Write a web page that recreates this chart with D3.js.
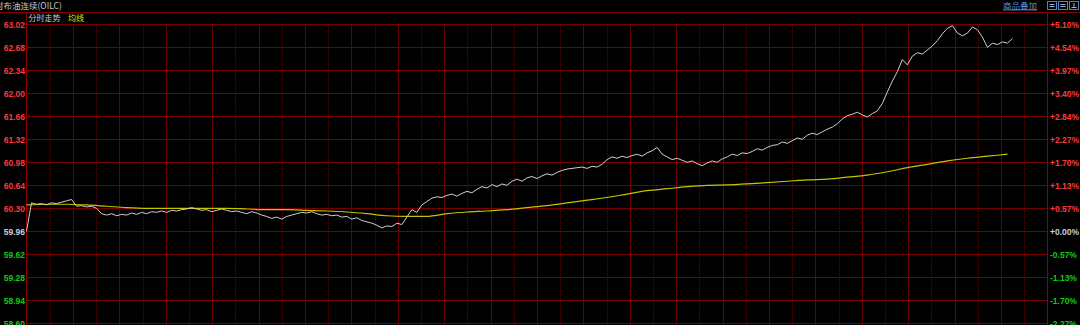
<!DOCTYPE html>
<html>
<head>
<meta charset="UTF-8">
<title>布油连续 分时走势</title>
<script src="https://cdn.jsdelivr.net/npm/d3@7"></script>
<style>
  html, body { margin: 0; padding: 0; background: #000; overflow: hidden; }
  svg { display: block; }
  text { font-family: "Liberation Sans", Arial, sans-serif; }
  .cjk { font-family: "Noto Sans CJK SC", sans-serif; }
</style>
</head>
<body>
<script>
  // prior close, used for the % axis and label colours
  const prevClose = 59.96;

  // price axis ticks (left) and matching % labels (right)
  const tickPrices = [58.60, 58.94, 59.28, 59.62, 59.96, 60.30, 60.64, 60.98, 61.32, 61.66, 62.00, 62.34, 62.68, 63.02];
  const tickLabels = ["58.60", "58.94", "59.28", "59.62", "59.96", "60.30", "60.64", "60.98", "61.32", "61.66", "62.00", "62.34", "62.68", "63.02"];
  const pctLabels = ["-2.27%", "-1.70%", "-1.13%", "-0.57%", "+0.00%", "+0.57%", "+1.13%", "+1.70%", "+2.27%", "+2.84%", "+3.40%", "+3.97%", "+4.54%", "+5.10%"];

  // session slots: the whole day, and the price line sampled once per slot
  const totalSlots = 204;
  const gridColumns = 44;

  const prices = [
    59.96, 60.38, 60.36, 60.37, 60.35, 60.38, 60.37, 60.39, 60.41, 60.43,
    60.33, 60.34, 60.32, 60.33, 60.30, 60.22, 60.20, 60.22, 60.19, 60.21,
    60.20, 60.23, 60.21, 60.24, 60.22, 60.25, 60.24, 60.26, 60.24, 60.27,
    60.26, 60.28, 60.29, 60.31, 60.29, 60.27, 60.28, 60.25, 60.27, 60.29,
    60.27, 60.25, 60.26, 60.24, 60.22, 60.25, 60.23, 60.20, 60.18, 60.15,
    60.17, 60.14, 60.18, 60.20, 60.22, 60.24, 60.23, 60.25, 60.22, 60.20,
    60.21, 60.19, 60.20, 60.17, 60.18, 60.14, 60.16, 60.12, 60.10, 60.08,
    60.05, 60.01, 60.04, 60.03, 60.08, 60.06, 60.17, 60.28, 60.24, 60.35,
    60.40, 60.45, 60.47, 60.46, 60.49, 60.51, 60.48, 60.52, 60.55, 60.53,
    60.58, 60.62, 60.60, 60.65, 60.62, 60.66, 60.64, 60.70, 60.73, 60.70,
    60.75, 60.77, 60.74, 60.78, 60.81, 60.79, 60.83, 60.86, 60.88, 60.89,
    60.90, 60.91, 60.89, 60.92, 60.91, 60.95, 61.02, 61.06, 61.04, 61.07,
    61.05, 61.08, 61.10, 61.07, 61.12, 61.15, 61.20, 61.10, 61.06, 61.02,
    61.04, 61.01, 60.98, 61.00, 60.96, 60.93, 60.97, 61.00, 60.98, 61.03,
    61.06, 61.10, 61.08, 61.12, 61.11, 61.14, 61.18, 61.16, 61.20, 61.23,
    61.24, 61.28, 61.26, 61.30, 61.34, 61.32, 61.38, 61.41, 61.39, 61.43,
    61.47, 61.50, 61.55, 61.62, 61.67, 61.69, 61.72, 61.68, 61.65, 61.70,
    61.74, 61.85, 62.02, 62.18, 62.32, 62.50, 62.42, 62.55, 62.60, 62.58,
    62.64, 62.70, 62.78, 62.88, 62.96, 63.00, 62.89, 62.85, 62.89, 62.98,
    62.94, 62.83, 62.68, 62.74, 62.72, 62.76, 62.74, 62.81
  ];

  // average line, one value every avgStep slots
  const avgStep = 4;
  const avgPrices = [
    60.35, 60.36, 60.36, 60.35, 60.33, 60.31, 60.30, 60.30, 60.30, 60.30,
    60.30, 60.29, 60.28, 60.28, 60.27, 60.26, 60.245, 60.22, 60.19, 60.18,
    60.18, 60.22, 60.245, 60.26, 60.28, 60.31, 60.34, 60.38, 60.42, 60.46,
    60.51, 60.56, 60.59, 60.62, 60.64, 60.645, 60.66, 60.68, 60.70, 60.72,
    60.73, 60.76, 60.79, 60.84, 60.90, 60.95, 61.00, 61.04, 61.07, 61.10
  ];

  const w = 1080, h = 325;
  const left = 26.5, right = 1047.5;
  const headerY = 12.5;

  const svg = d3.select("body").append("svg")
    .attr("width", w)
    .attr("height", h);

  const x = d3.scaleLinear().domain([0, totalSlots]).range([left, right]);
  const gx = d3.scaleLinear().domain([0, gridColumns]).range([left, right]);
  const y = d3.scaleLinear().domain([58.60, 63.02]).range([323.3, 24.3]);

  function labelColor(p) {
    if (Math.abs(p - prevClose) < 0.001) return "#c8cfdc";
    return p > prevClose ? "#ff3a3a" : "#16c816";
  }

  // vertical grid, every other line dotted
  svg.append("g").selectAll("line")
    .data(d3.range(1, gridColumns))
    .enter().append("line")
    .attr("x1", d => Math.round(gx(d)) + 0.5)
    .attr("x2", d => Math.round(gx(d)) + 0.5)
    .attr("y1", y(63.02))
    .attr("y2", h)
    .attr("stroke", d => d % 2 === 0 ? "#680000" : "#4c0000")
    .attr("stroke-dasharray", d => d % 2 === 0 ? null : "2,1")
    .attr("shape-rendering", "crispEdges");

  // horizontal grid
  svg.append("g").selectAll("line")
    .data(tickPrices)
    .enter().append("line")
    .attr("x1", left)
    .attr("x2", right)
    .attr("y1", d => Math.round(y(d)) + 0.5)
    .attr("y2", d => Math.round(y(d)) + 0.5)
    .attr("stroke", "#760000")
    .attr("shape-rendering", "crispEdges");

  // frame: header line + two axis lines
  svg.append("line")
    .attr("x1", 0).attr("x2", w)
    .attr("y1", headerY).attr("y2", headerY)
    .attr("stroke", "#7a0000")
    .attr("shape-rendering", "crispEdges");
  [left, right].forEach(xx => {
    svg.append("line")
      .attr("x1", xx).attr("x2", xx)
      .attr("y1", headerY).attr("y2", h)
      .attr("stroke", "#8c0000")
      .attr("shape-rendering", "crispEdges");
  });

  // left price labels
  svg.append("g").selectAll("text")
    .data(tickPrices)
    .enter().append("text")
    .attr("x", left - 1.5)
    .attr("y", d => y(d) + 1)
    .attr("text-anchor", "end")
    .attr("dominant-baseline", "central")
    .attr("font-size", 8.5)
    .attr("font-weight", "bold")
    .attr("fill", d => labelColor(d))
    .text((d, i) => tickLabels[i]);

  // right % labels
  svg.append("g").selectAll("text")
    .data(tickPrices)
    .enter().append("text")
    .attr("x", right + 2.5)
    .attr("y", d => y(d) + 1)
    .attr("dominant-baseline", "central")
    .attr("font-size", 8.5)
    .attr("font-weight", "bold")
    .attr("fill", d => labelColor(d))
    .text((d, i) => pctLabels[i]);

  // average line
  const avgLine = d3.line()
    .x((d, i) => x(i * avgStep))
    .y(d => y(d))
    .curve(d3.curveMonotoneX);

  svg.append("path")
    .datum(avgPrices)
    .attr("d", avgLine)
    .attr("fill", "none")
    .attr("stroke", "#c4c400")
    .attr("stroke-width", 1.2);

  // price line
  const priceLine = d3.line()
    .x((d, i) => x(i))
    .y(d => y(d));

  svg.append("path")
    .datum(prices)
    .attr("d", priceLine)
    .attr("fill", "none")
    .attr("stroke", "#d0d0d0")
    .attr("stroke-width", 1);

  // header texts
  svg.append("text")
    .attr("class", "cjk")
    .attr("x", -5)
    .attr("y", 9)
    .attr("font-size", 8.5)
    .attr("fill", "#c8c8c8")
    .text("时布油连续(OILC)");

  svg.append("text")
    .attr("class", "cjk")
    .attr("x", 28.5)
    .attr("y", 21)
    .attr("font-size", 8)
    .attr("fill", "#c8c8c8")
    .text("分时走势");

  svg.append("text")
    .attr("class", "cjk")
    .attr("x", 68)
    .attr("y", 21)
    .attr("font-size", 8)
    .attr("fill", "#e0e000")
    .text("均线");

  svg.append("text")
    .attr("class", "cjk")
    .attr("x", 1003)
    .attr("y", 8.5)
    .attr("font-size", 8.5)
    .attr("fill", "#5b8fd8")
    .attr("text-decoration", "underline")
    .text("商品叠加");

  // small toolbar buttons at the top right
  const btns = svg.append("g");
  [1047.5, 1058.5, 1069.5].forEach((bx, i) => {
    btns.append("rect")
      .attr("x", bx).attr("y", 1.5)
      .attr("width", 9).attr("height", 8)
      .attr("fill", "none")
      .attr("stroke", "#4f7fc0")
      .attr("shape-rendering", "crispEdges");
    if (i < 2) {
      btns.append("line")
        .attr("x1", bx + 2).attr("x2", bx + 7)
        .attr("y1", 4.5).attr("y2", 4.5)
        .attr("stroke", "#8fb0e0");
      btns.append("line")
        .attr("x1", bx + 2).attr("x2", bx + 7)
        .attr("y1", 6.5).attr("y2", 6.5)
        .attr("stroke", "#8fb0e0");
    } else {
      btns.append("line")
        .attr("x1", bx + 4.5).attr("x2", bx + 4.5)
        .attr("y1", 3).attr("y2", 8)
        .attr("stroke", "#8fb0e0");
      btns.append("line")
        .attr("x1", bx + 2).attr("x2", bx + 7)
        .attr("y1", 7.5).attr("y2", 7.5)
        .attr("stroke", "#8fb0e0");
    }
  });
</script>
</body>
</html>
